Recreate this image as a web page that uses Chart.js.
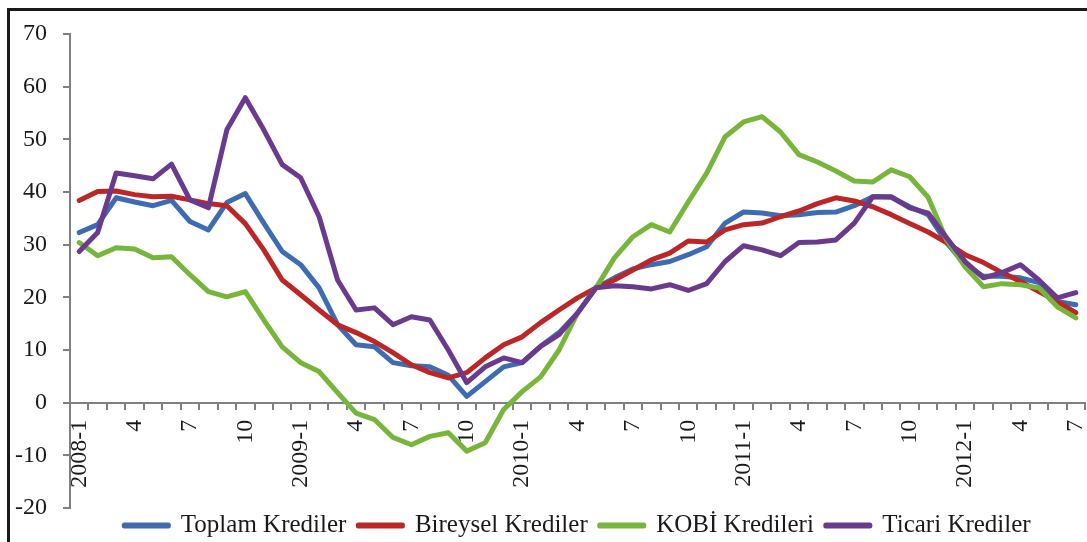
<!DOCTYPE html>
<html>
<head>
<meta charset="utf-8">
<script src="https://cdn.jsdelivr.net/npm/chart.js@4.4.0/dist/chart.umd.min.js"></script>
<style>
  html, body { margin: 0; padding: 0; background: #fff; overflow: hidden; }
  #frame { position: absolute; left: 7px; top: 8px; width: 1200px; height: 600px; border: 3px solid #1a1a1a; }
  #wrap { position: absolute; left: 0; top: 0; width: 1087px; height: 542px; }
</style>
</head>
<body>
<div id="frame"></div>
<div id="wrap"><canvas id="chart"></canvas></div>
<script>
const tickLabels = [
  '2008-1', '', '', '4', '', '', '7', '', '', '10', '', '',
  '2009-1', '', '', '4', '', '', '7', '', '', '10', '', '',
  '2010-1', '', '', '4', '', '', '7', '', '', '10', '', '',
  '2011-1', '', '', '4', '', '', '7', '', '', '10', '', '',
  '2012-1', '', '', '4', '', '', '7'
];

const toplam = [
  32.3, 33.8, 38.9, 38.1, 37.4, 38.4, 34.4, 32.8, 38.0, 39.7, 34.1, 28.7,
  26.2, 21.8, 14.8, 11.0, 10.6, 7.6, 7.0, 6.8, 5.2, 1.2, 4.0, 6.8,
  7.6, 10.7, 13.3, 17.0, 21.8, 23.7, 25.4, 26.2, 26.8, 28.1, 29.6, 34.1,
  36.2, 36.0, 35.5, 35.7, 36.1, 36.2, 37.4, 39.1, 39.0, 37.2, 35.7, 30.4,
  26.2, 24.0, 24.0, 23.7, 22.8, 19.2, 18.6
];
const bireysel = [
  38.4, 40.1, 40.2, 39.5, 39.1, 39.2, 38.5, 37.8, 37.4, 34.0, 29.0, 23.3,
  20.5, 17.6, 14.8, 13.3, 11.6, 9.5, 7.2, 5.7, 4.7, 5.7, 8.5, 11.0,
  12.5, 15.2, 17.6, 19.9, 21.8, 23.3, 25.2, 27.1, 28.4, 30.7, 30.5, 32.8,
  33.8, 34.1, 35.3, 36.4, 37.8, 38.9, 38.3, 37.2, 35.7, 34.0, 32.4, 30.4,
  28.1, 26.6, 24.7, 23.0, 21.1, 19.2, 17.1
];
const kobi = [
  30.4, 27.9, 29.4, 29.2, 27.5, 27.7, 24.3, 21.1, 20.1, 21.1, 15.7, 10.6,
  7.6, 5.9, 1.9, -2.0, -3.2, -6.6, -8.0, -6.4, -5.7, -9.2, -7.6, -1.3,
  2.1, 4.9, 10.0, 17.0, 21.8, 27.5, 31.5, 33.8, 32.4, 38.1, 43.6, 50.5,
  53.3, 54.3, 51.4, 47.1, 45.7, 44.0, 42.1, 41.9, 44.2, 42.9, 39.0, 30.9,
  25.8, 22.0, 22.6, 22.4, 21.8, 18.2, 16.1
];
const ticari = [
  28.7, 32.3, 43.6, 43.1, 42.5, 45.3, 38.5, 37.0, 51.8, 57.9, 51.8, 45.2,
  42.7, 35.3, 23.3, 17.6, 18.0, 14.8, 16.3, 15.7, 10.0, 3.8, 6.8, 8.5,
  7.6, 10.7, 12.9, 17.0, 21.8, 22.2, 22.0, 21.6, 22.4, 21.3, 22.6, 26.8,
  29.8, 29.0, 27.9, 30.4, 30.5, 30.9, 34.1, 39.1, 39.1, 37.0, 36.0, 31.3,
  26.8, 23.7, 24.7, 26.2, 23.3, 19.9, 20.9
];

const serif = "'Liberation Serif', 'Times New Roman', serif";
const axisGrey = '#808080';
const textColor = '#1a1a1a';

const series = (label, data, color, order) => ({
  label,
  data,
  order,
  borderColor: color,
  backgroundColor: color,
  borderWidth: 5,
  pointRadius: 0,
  tension: 0,
  fill: false,
  borderJoinStyle: 'round',
  borderCapStyle: 'round'
});

// center the legend under the plot area and pull it up a little
const legendUnderPlot = {
  id: 'legendUnderPlot',
  afterLayout(chart) {
    chart.legend.left = chart.chartArea.left;
    chart.legend.right = chart.chartArea.right;
    chart.legend.top -= 7;
  }
};

new Chart(document.getElementById('chart'), {
  type: 'line',
  data: {
    labels: tickLabels,
    datasets: [
      series('Toplam Krediler', toplam, '#3D6CB4', 3),
      series('Bireysel Krediler', bireysel, '#BC2626', 2),
      series('KOBİ Kredileri', kobi, '#78B53B', 1),
      series('Ticari Krediler', ticari, '#6A3A8E', 0)
    ]
  },
  options: {
    responsive: true,
    maintainAspectRatio: false,
    animation: false,
    layout: { padding: { top: 34, right: 2, bottom: -13, left: 0 } },
    plugins: {
      tooltip: { enabled: false },
      legend: {
        position: 'bottom',
        labels: {
          boxWidth: 44,
          boxHeight: 1,
          padding: 12,
          color: textColor,
          font: { family: serif, size: 25 },
          sort: (a, b) => a.datasetIndex - b.datasetIndex
        }
      }
    },
    scales: {
      x: {
        position: { y: 0 },
        offset: true,
        afterFit(scale) { scale.paddingLeft = 0; scale.paddingRight = 0; },
        grid: { offset: true, drawOnChartArea: false, tickLength: 6, color: axisGrey, lineWidth: 2 },
        border: { color: axisGrey, width: 2 },
        ticks: {
          autoSkip: false,
          minRotation: 90,
          maxRotation: 90,
          padding: 11,
          color: textColor,
          font: { family: serif, size: 24 }
        }
      },
      y: {
        min: -20,
        max: 70,
        afterFit(scale) { scale.width = 70; },
        grid: { drawOnChartArea: false, tickLength: 7, color: axisGrey, lineWidth: 2 },
        border: { color: axisGrey, width: 2 },
        ticks: {
          stepSize: 10,
          padding: 16,
          color: textColor,
          font: { family: serif, size: 24 }
        }
      }
    }
  },
  plugins: [legendUnderPlot]
});
</script>
</body>
</html>
